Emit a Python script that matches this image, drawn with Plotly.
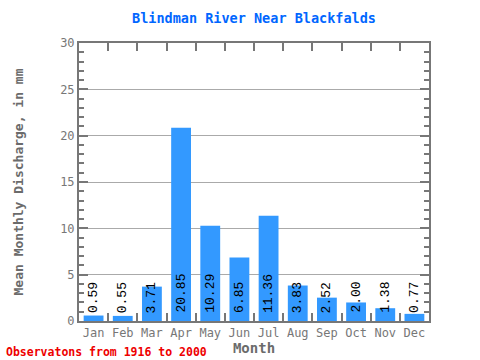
import plotly.graph_objects as go

months = ["Jan", "Feb", "Mar", "Apr", "May", "Jun", "Jul", "Aug", "Sep", "Oct", "Nov", "Dec"]
values = [0.59, 0.55, 3.71, 20.85, 10.29, 6.85, 11.36, 3.83, 2.52, 2.00, 1.38, 0.77]
labels = ["%.2f" % v for v in values]

GRAY = "#6b6b6b"
TICKGRAY = "#777777"
MONO = "DejaVu Sans Mono"

fig = go.Figure()
fig.add_trace(go.Bar(x=months, y=values, width=0.68, marker=dict(color="#3399ff", line=dict(width=0)),
                     hoverinfo="skip"))

for m, t in zip(months, labels):
    fig.add_annotation(x=m, y=0, text=t, textangle=-90, showarrow=False, xanchor="center",
                       yanchor="bottom", yshift=6,
                       font=dict(family="Liberation Mono", size=13, color="black"))

fig.add_annotation(xref="paper", yref="paper", x=0, y=0, xshift=-75, yshift=-31,
                   xanchor="left", yanchor="middle", showarrow=False,
                   text="<b>Observatons from 1916 to 2000</b>",
                   font=dict(family=MONO, size=11.5, color="#ee0000"))

fig.update_layout(
    width=480, height=360,
    margin=dict(l=79, r=51, t=43, b=39),
    paper_bgcolor="white", plot_bgcolor="white",
    showlegend=False,
    title=dict(text="<b>Blindman River Near Blackfalds</b>", xref="paper", x=0.5, xanchor="center",
               y=1 - 18 / 360, yanchor="middle",
               font=dict(family=MONO, size=13.5, color="#0066ff")),
    xaxis=dict(
        automargin=False,
        showline=True, linewidth=2, linecolor="#777777", mirror="ticks",
        ticks="inside", ticklen=8, tickwidth=2, tickcolor="#777777", tickson="boundaries",
        showgrid=False, tickangle=0,
        tickfont=dict(family=MONO, size=12, color=TICKGRAY),
        title=dict(text="<b>Month</b>", standoff=4, font=dict(family=MONO, size=14, color=GRAY)),
        range=[-0.5, 11.5],
    ),
    yaxis=dict(
        automargin=False,
        range=[0, 30], dtick=5, tick0=0,
        showline=True, linewidth=2, linecolor="#777777", mirror="ticks",
        ticks="inside", ticklen=9, tickwidth=2, tickcolor="#777777",
        showgrid=True, gridcolor="#aaaaaa", gridwidth=1,
        minor=dict(dtick=1, ticks="inside", ticklen=5, tickwidth=2, tickcolor="#777777", showgrid=False),
        zeroline=False,
        tickfont=dict(family=MONO, size=12, color=TICKGRAY),
        title=dict(text="<b>Mean Monthly Discharge, in mm</b>", standoff=34,
                   font=dict(family=MONO, size=13, color=GRAY)),
    ),
)

fig.write_html("out.html", config={"displayModeBar": False},
               post_script="document.body.style.margin='0';document.body.style.overflow='hidden';")
